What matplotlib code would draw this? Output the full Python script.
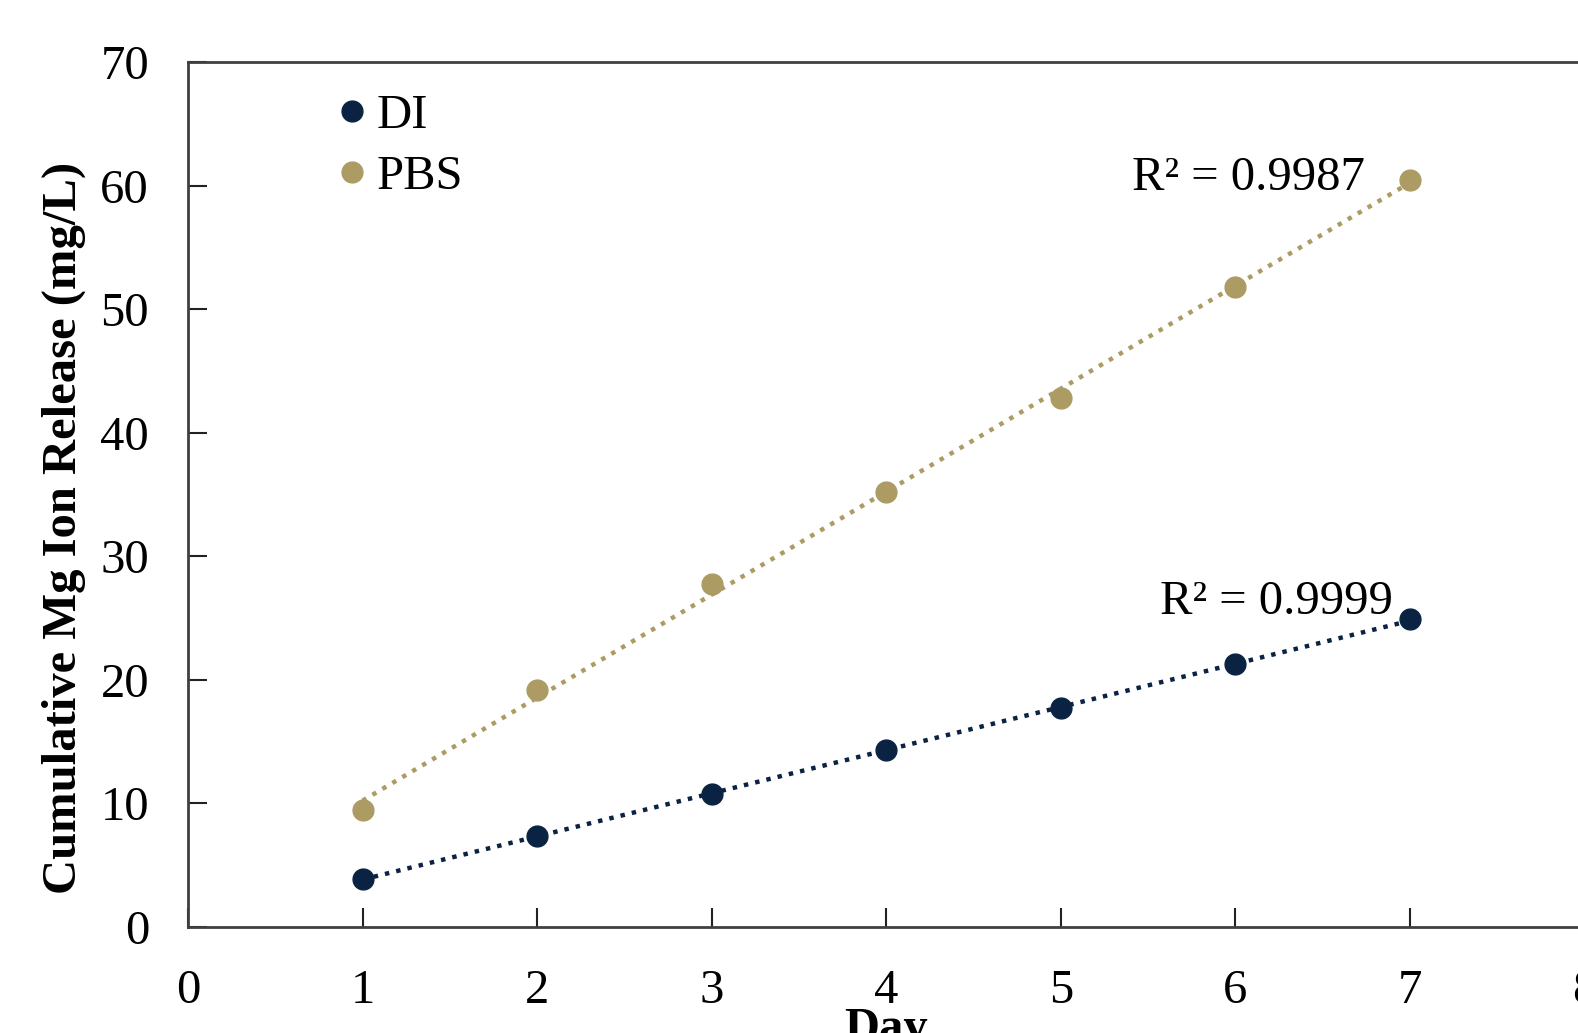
import numpy as np
import matplotlib
matplotlib.use('Agg')
import matplotlib.pyplot as plt

plt.rcParams['font.family'] = ['Liberation Serif', 'DejaVu Serif']

days = [1, 2, 3, 4, 5, 6, 7]
di_vals = [3.9, 7.35, 10.8, 14.3, 17.7, 21.3, 24.9]
pbs_vals = [9.45, 19.15, 27.8, 35.2, 42.8, 51.8, 60.5]
r2_labels = ['R² = 0.9999', 'R² = 0.9987']

navy = '#0B2343'
gold = '#AD9B64'
fs = 35

fig = plt.figure(figsize=(15.78, 10.33), dpi=100)
# axes runs slightly past the right edge, like the cropped original
ax = fig.add_axes([0.1191, 0.1026, 0.885, 0.837])

x = np.array(days)
for vals, col, lab in [(di_vals, navy, 'DI'), (pbs_vals, gold, 'PBS')]:
    ax.plot(days, vals, 'o', color=col, markersize=15, label=lab, zorder=3)
    m, b = np.polyfit(x, vals, 1)
    ax.plot(x, m * x + b, color=col, linestyle=(0, (1, 1.6)), linewidth=3.2, zorder=2)

# R-squared labels
ax.text(6.9, 26.3, r2_labels[0], fontsize=fs, ha='right', va='center')
ax.text(6.74, 60.6, r2_labels[1], fontsize=fs, ha='right', va='center')

ax.set_xlim(0, 8)
ax.set_ylim(0, 70)
ax.set_xticks(range(0, 9))
ax.set_yticks(range(0, 80, 10))
ax.tick_params(direction='in', length=14, width=1.5, labelsize=fs, color='#222222')
ax.tick_params(axis='x', pad=30)
ax.tick_params(axis='y', pad=28)
for s in ax.spines.values():
    s.set_linewidth(2)
    s.set_color('#404040')

ax.set_xlabel('Day', fontsize=fs, fontweight='bold', labelpad=-4)
ax.set_ylabel('Cumulative Mg Ion Release (mg/L)', fontsize=fs, fontweight='bold', labelpad=10)
ax.yaxis.label.set_y(0.462)

ax.legend(loc='upper left', bbox_to_anchor=(0.069, 1.014), frameon=False, fontsize=fs,
          handletextpad=0.0, labelspacing=0.35, handlelength=1.0)

fig.savefig('out.png', dpi=100)
